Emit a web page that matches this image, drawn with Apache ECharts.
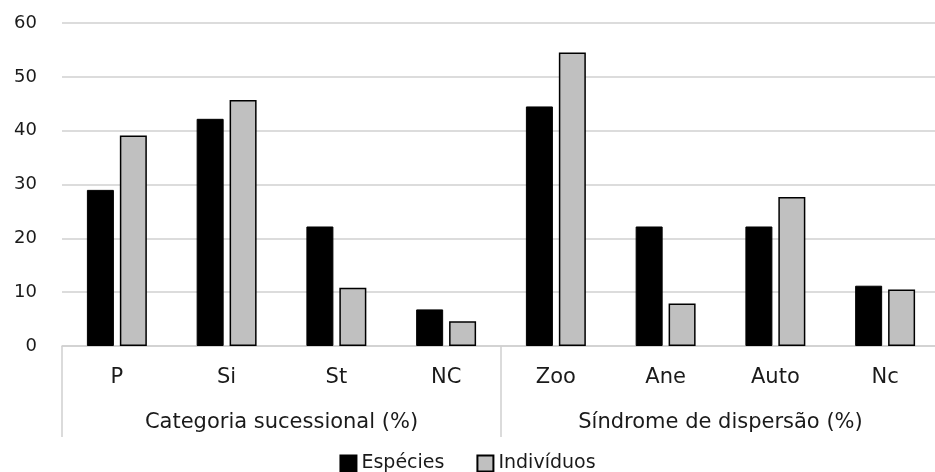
<!DOCTYPE html>
<html><head><meta charset="utf-8">
<script src="https://cdn.jsdelivr.net/npm/echarts@6/dist/echarts.min.js"></script>
<style>html,body{margin:0;padding:0;background:#fff}#c{width:935px;height:472px}</style>
</head><body><div id="c"></div>
<script>
var categories = ['P','Si','St','NC','Zoo','Ane','Auto','Nc'];
var groups = ['Categoria sucessional (%)','Síndrome de dispersão (%)'];
var especies = [29.0, 42.2, 22.2, 6.8, 44.5, 22.2, 22.2, 11.2];
var individuos = [39.1, 45.7, 10.8, 4.6, 54.5, 7.9, 27.7, 10.5];
var seriesNames = ['Espécies','Indivíduos'];

var chart = echarts.init(document.getElementById('c'));
var txt = '#1a1a1a';
var ff = 'DejaVu Sans';
chart.setOption({
  animation:false,
  textStyle:{fontFamily:ff},
  legend:{
    top:454, left:'center', itemWidth:16, itemHeight:16, itemGap:32,
    padding:0,
    textStyle:{fontSize:19, color:txt, fontFamily:ff, fontWeight:'normal'},
    data:[{name:seriesNames[0], icon:'rect'},{name:seriesNames[1], icon:'rect'}]
  },
  grid:{left:62, width:878, top:23, height:323, containLabel:false, outerBoundsMode:'none'},
  xAxis:[{
    type:'category', data:categories,
    axisLine:{lineStyle:{color:'#d0d0d0', width:1.5}},
    axisTick:{show:false},
    axisLabel:{fontSize:21, color:txt, margin:21, fontFamily:ff}
  },{
    type:'category', data:groups, position:'bottom',
    axisLine:{show:false},
    axisTick:{show:true, length:91, lineStyle:{color:'#d0d0d0', width:1.5}},
    axisLabel:{fontSize:21, color:txt, margin:66, fontFamily:ff},
    splitLine:{show:false}
  }],
  yAxis:{
    type:'value', min:0, max:60, interval:10,
    axisLine:{show:false}, axisTick:{show:false},
    axisLabel:{fontSize:18, color:txt, margin:25, fontFamily:ff},
    splitLine:{lineStyle:{color:'#d0d0d0', width:1.5}}
  },
  series:[{
    name:seriesNames[0], type:'bar', data:especies, xAxisIndex:0,
    barWidth:27, barGap:'22%',
    itemStyle:{color:'#000', borderColor:'#000', borderWidth:1}
  },{
    name:seriesNames[1], type:'bar', data:individuos, xAxisIndex:0,
    barWidth:27,
    itemStyle:{color:'#c0c0c0', borderColor:'#000', borderWidth:1.5}
  }]
});
</script></body></html>
